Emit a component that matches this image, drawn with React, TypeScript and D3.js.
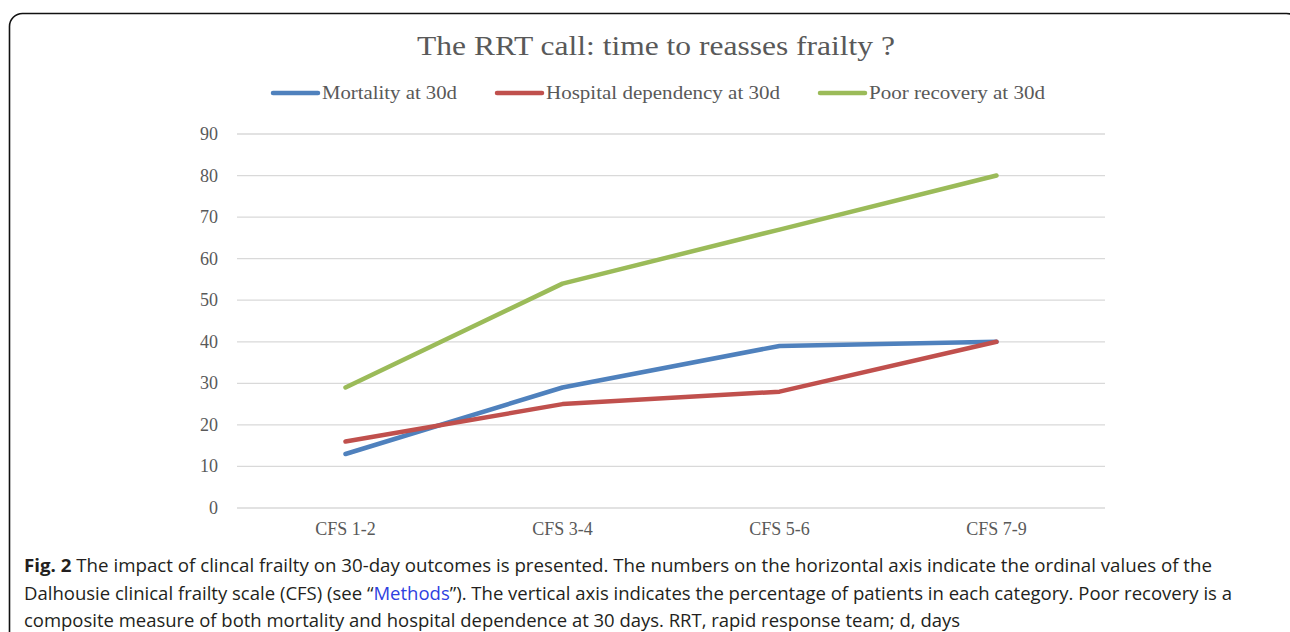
import React from "react";
import * as d3 from "d3";

const categories = ["CFS 1-2", "CFS 3-4", "CFS 5-6", "CFS 7-9"];
const mortality = [13, 29, 39, 40];
const hospitalDependency = [16, 25, 28, 40];
const poorRecovery = [29, 54, 67, 80];
const yTicks = [0, 10, 20, 30, 40, 50, 60, 70, 80, 90];
const seriesNames = ["Mortality at 30d", "Hospital dependency at 30d", "Poor recovery at 30d"];
const seriesColors = ["#4f81bd", "#c0504d", "#9bbb59"];
const title = "The RRT call: time to reasses frailty ?";
const captionLines = [
  [{ t: "Fig. 2", b: true }, { t: " The impact of clincal frailty on 30-day outcomes is presented. The numbers on the horizontal axis indicate the ordinal values of the" }],
  [{ t: "Dalhousie clinical frailty scale (CFS) (see “" }, { t: "Methods", link: true }, { t: "”). The vertical axis indicates the percentage of patients in each category. Poor recovery is a" }],
  [{ t: "composite measure of both mortality and hospital dependence at 30 days. RRT, rapid response team; d, days" }],
];

export default function App() {
  const W = 1290, H = 632;
  const x = d3.scalePoint<string>().domain(categories).range([237, 1105]).padding(0.5);
  const y = d3.scaleLinear().domain([0, 90]).range([508, 134]);
  const line = d3.line<number>().x((_, i) => x(categories[i]) as number).y((d) => y(d));
  const series = [mortality, hospitalDependency, poorRecovery];
  const legendX = [273, 497, 820];
  const legendW = [135, 234, 176];
  const captionEnds = [1212, 1232, 960];
  const serif = "'Liberation Serif', 'DejaVu Serif', serif";
  const sans = "'Open Sans', 'Noto Sans', sans-serif";
  return (
    <svg width={W} height={H} style={{ position: "absolute", left: 0, top: 0, background: "#fff" }}>
      <rect x={9.5} y={13.5} width={1290} height={700} rx={13} ry={13} fill="#fff" stroke="#111" strokeWidth={1.6} />
      <text x={656} y={55} textAnchor="middle" fontFamily={serif} fontSize={27} fill="#595959" textLength={478} lengthAdjust="spacingAndGlyphs">{title}</text>
      {seriesNames.map((n, i) => (
        <g key={n}>
          <line x1={legendX[i]} x2={legendX[i] + 45} y1={93} y2={93} stroke={seriesColors[i]} strokeWidth={4.5} strokeLinecap="round" />
          <text x={legendX[i] + 49} y={99} fontFamily={serif} fontSize={18} fill="#595959" textLength={legendW[i]} lengthAdjust="spacingAndGlyphs">{n}</text>
        </g>
      ))}
      {yTicks.map((t) => (
        <g key={t}>
          <line x1={237} x2={1105} y1={y(t)} y2={y(t)} stroke="#d9d9d9" strokeWidth={1.3} />
          <text x={218} y={y(t) + 6} textAnchor="end" fontFamily={serif} fontSize={18} fill="#595959">{t}</text>
        </g>
      ))}
      {categories.map((c) => (
        <text key={c} x={x(c)} y={535} textAnchor="middle" fontFamily={serif} fontSize={18} fill="#595959">{c}</text>
      ))}
      {series.map((s, i) => (
        <path key={i} d={line(s) || ""} fill="none" stroke={seriesColors[i]} strokeWidth={4.5} strokeLinecap="round" strokeLinejoin="round" />
      ))}
      {captionLines.map((ln, i) => (
        <text key={i} x={24} y={572 + i * 27.5} fontFamily={sans} fontSize={18} fill="#231f20" textLength={captionEnds[i] - 24} lengthAdjust="spacingAndGlyphs">
          {ln.map((p: any, j) => (
            <tspan key={j} fontWeight={p.b ? 700 : 400} fill={p.link ? "#2f3fe0" : "#231f20"}>{p.t}</tspan>
          ))}
        </text>
      ))}
    </svg>
  );
}
